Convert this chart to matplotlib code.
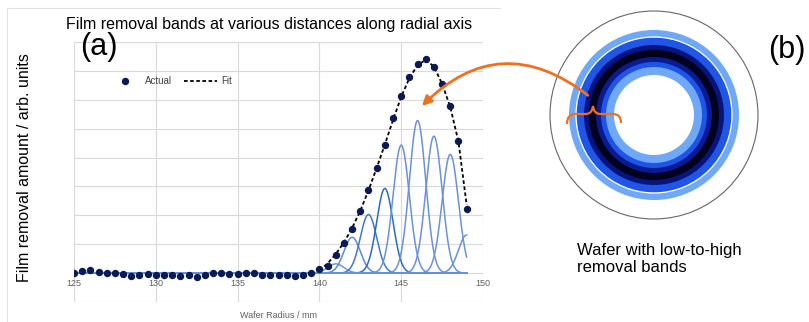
import numpy as np
import matplotlib.pyplot as plt
from matplotlib.patches import Circle, FancyArrowPatch, PathPatch
from matplotlib.path import Path

plt.rcParams['font.family'] = ['Liberation Sans', 'DejaVu Sans']

# measured profile, every 0.5 mm from 125 to 149 mm
radius_mm = np.arange(125.0, 149.5, 0.5)
removal_actual = [
    0.00, 0.09, 0.11, 0.03, 0.02, 0.02, -0.03, -0.11, -0.06, -0.02,
    -0.05, -0.05, -0.05, -0.11, -0.05, -0.14, -0.05, -0.01, 0.00, -0.02,
    -0.03, 0.01, 0.00, -0.05, -0.08, -0.08, -0.05, -0.11, -0.05, 0.02,
    0.14, 0.24, 0.61, 1.03, 1.54, 2.14, 2.86, 3.64, 4.45, 5.36,
    6.13, 6.78, 7.24, 7.40, 7.15, 6.55, 5.77, 4.59, 2.21,
]

fit_radius_mm = np.arange(140.0, 149.5, 0.5)
removal_fit = [
    0.10, 0.33, 0.66, 1.06, 1.56, 2.16, 2.86, 3.64, 4.45, 5.30,
    6.10, 6.75, 7.20, 7.38, 7.15, 6.55, 5.75, 4.55, 2.36,
]

# individual removal bands (gaussian components)
band_centers = [141, 142, 143, 144, 145, 146, 147, 148, 149]
band_heights = [0.32, 1.24, 2.03, 2.93, 4.43, 5.28, 4.74, 4.11, 1.32]
band_sigma = [0.5, 0.5, 0.5, 0.5, 0.5, 0.5, 0.5, 0.5, 0.5]
band_colors = ['#6f95db', '#5f8ad6', '#3f78cc', '#2a6cc4', '#6a91da',
               '#6a91da', '#6a91da', '#6a91da', '#6a91da']

xtick_values = [125, 130, 135, 140, 145, 150]
xtick_labels = ['125', '130', '135', '140', '145', '150']

# wafer illustration rings, outer to inner (pixel radii)
wafer_ring_radii = [85, 77.5, 70, 65, 58, 53, 48, 40]
wafer_ring_colors = ['#6ea8f6', '#1f56e6', '#07137e', '#02021c',
                     '#0a1a90', '#1e55e6', '#6ea8f6', 'white']

W, H = 809, 322
fig = plt.figure(figsize=(W / 100, H / 100), dpi=100)

ax = fig.add_axes([74 / W, 20 / H, 409 / W, 260 / H])
for sp in ax.spines.values():
    sp.set_visible(False)
ax.spines['bottom'].set_position(('data', 0))

xs = np.linspace(125, 149, 900)
for c, h, s, col in zip(band_centers, band_heights, band_sigma, band_colors):
    ax.plot(xs, h * np.exp(-0.5 * ((xs - c) / s) ** 2), color=col, lw=1.1, zorder=2)
ax.plot(radius_mm, removal_actual, 'o', color='#0b1a55', ms=4.3, zorder=4, label='Actual')
ax.plot(fit_radius_mm, removal_fit, color='black', ls=(0, (2, 1.4)), lw=1.3,
        zorder=3, label='Fit')

ax.set_xlim(125, 150)
ax.set_ylim(-1, 8)
ax.set_xticks(xtick_values)
ax.set_xticklabels(xtick_labels, fontsize=6.5, color='#606060')
ax.set_yticks(range(-1, 9))
ax.set_yticklabels([])
ax.tick_params(length=0, pad=4.5)
ax.grid(color='#d9d9d9', lw=0.8)
ax.set_axisbelow(True)

ax.legend(loc='center left', bbox_to_anchor=(108 / W, 1 - 81 / H),
          bbox_transform=fig.transFigure, ncol=2, fontsize=7, frameon=False,
          handlelength=3.4, handletextpad=0.45, columnspacing=1.2,
          borderpad=0, borderaxespad=0, numpoints=1, labelcolor='#404040')

fig.text(269 / W, 1 - 25 / H, 'Film removal bands at various distances along radial axis',
         ha='center', va='center', fontsize=11.5)
fig.text(99 / W, 1 - 47 / H, '(a)', ha='center', va='center', fontsize=22)
fig.text(787 / W, 1 - 50 / H, '(b)', ha='center', va='center', fontsize=22)
fig.text(25 / W, 1 - 168 / H, 'Film removal amount / arb. units', rotation=90,
         ha='center', va='center', fontsize=11.5)
fig.text(278 / W, 1 - 316 / H, 'Wafer Radius / mm', ha='center', va='center',
         fontsize=6.5, color='#606060')
fig.text(577 / W, 1 - 259 / H, 'Wafer with low-to-high\nremoval bands', ha='left',
         va='center', fontsize=12, linespacing=1.1)

# overlay in pixel coordinates for the wafer sketch and annotations
ov = fig.add_axes([0, 0, 1, 1])
ov.set_xlim(0, W)
ov.set_ylim(H, 0)
ov.axis('off')
ov.patch.set_visible(False)

ov.plot([7, 7], [8, H], color='#e2e2e2', lw=0.8)
ov.plot([7, 500], [8, 8], color='#e2e2e2', lw=0.8)

cx, cy = 654, 115
ov.add_patch(Circle((cx, cy), 104, facecolor='white', edgecolor='#666666', lw=0.8))
for r, col in zip(wafer_ring_radii, wafer_ring_colors):
    ov.add_patch(Circle((cx, cy), r, facecolor=col, edgecolor='none'))
ov.add_patch(Circle((cx, cy), 78, facecolor='none', edgecolor='white', lw=0.9))

orange = '#f0701e'
ov.add_patch(FancyArrowPatch((590, 97), (420, 108), connectionstyle='arc3,rad=0.45',
                             arrowstyle='-|>', mutation_scale=14, color=orange, lw=2))

brace = Path(
    [(567, 124), (567, 114), (575, 114), (586, 114), (592, 114), (593, 106),
     (594, 114), (600, 114), (613, 114), (621, 114), (621, 123)],
    [Path.MOVETO, Path.CURVE3, Path.CURVE3, Path.LINETO, Path.CURVE3, Path.CURVE3,
     Path.CURVE3, Path.CURVE3, Path.LINETO, Path.CURVE3, Path.CURVE3],
)
ov.add_patch(PathPatch(brace, facecolor='none', edgecolor=orange, lw=1.6))

fig.savefig('out.png', dpi=100)
